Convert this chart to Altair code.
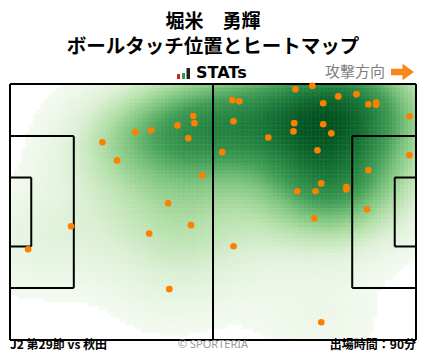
import numpy as np
import pandas as pd
import altair as alt

# ---- data (pitch metres, 105 x 68, y measured from top edge) ----
touch_x = [47.4, 47.7, 43.3, 36.5, 32.4, 23.9, 46.1, 27.7, 49.7, 40.9, 36.0, 46.8, 15.8, 4.7, 41.2,
           73.8, 78.2, 57.5, 59.3, 84.9, 89.6, 92.7, 94.7, 94.7, 81.0, 103.3, 57.8, 73.5, 73.3, 81.0,
           83.1, 66.8, 54.9, 79.5, 103.3, 92.7, 80.5, 74.3, 79.0, 87.0, 87.0, 92.3, 78.7, 57.8, 80.5]
touch_y = [8.5, 10.4, 11.0, 12.3, 12.8, 15.5, 14.4, 20.3, 24.3, 31.7, 39.7, 37.5, 37.8, 43.9, 54.5,
           1.4, 0.5, 4.3, 4.6, 3.3, 2.7, 5.4, 4.9, 5.5, 5.1, 8.6, 9.9, 10.4, 12.6, 10.7,
           13.1, 14.2, 18.1, 17.6, 18.9, 22.9, 26.4, 28.5, 28.5, 27.4, 28.0, 33.3, 35.7, 43.1, 63.3]

title_text = ["堀米　勇輝"]
subtitle_text = ["ボールタッチ位置とヒートマップ"]
brand_text = ["STATs"]
direction_text = ["攻撃方向"]
footer_left = ["J2 第29節 vs 秋田"]
footer_center = ["© SPORTERIA"]
footer_right = ["出場時間：90分"]

# pitch line segments (x, y, x2, y2)
line_x1 = [0, 105, 105, 0, 52.5, 0, 16.5, 16.5, 0, 5.5, 5.5, 105, 88.5, 88.5, 105, 99.5, 99.5]
line_y1 = [0, 0, 68, 68, 0, 13.84, 13.84, 54.16, 24.84, 24.84, 43.16, 13.84, 13.84, 54.16, 24.84, 24.84, 43.16]
line_x2 = [105, 105, 0, 0, 52.5, 16.5, 16.5, 0, 5.5, 5.5, 0, 88.5, 88.5, 105, 99.5, 99.5, 105]
line_y2 = [0, 68, 68, 0, 68, 13.84, 54.16, 54.16, 24.84, 43.16, 43.16, 13.84, 54.16, 54.16, 24.84, 43.16, 43.16]

# ---- heat map: gaussian KDE of the touch positions on a grid ----
nx, ny = 105, 68
xe = np.linspace(0, 105, nx + 1)
ye = np.linspace(0, 68, ny + 1)
xc = (xe[:-1] + xe[1:]) / 2
yc = (ye[:-1] + ye[1:]) / 2
GX, GY = np.meshgrid(xc, yc)
px = np.array(touch_x)[:, None, None]
py = np.array(touch_y)[:, None, None]
sx, sy = 12.0, 10.0
dens = np.exp(-((GX - px) ** 2 / (2 * sx ** 2) + (GY - py) ** 2 / (2 * sy ** 2))).sum(axis=0)
dens = dens / dens.max()
ix, iy = np.meshgrid(np.arange(nx), np.arange(ny))
heat = pd.DataFrame({
    "x": xe[ix.ravel()], "x2": xe[ix.ravel() + 1],
    "y": ye[iy.ravel()], "y2": ye[iy.ravel() + 1],
    "v": np.round(dens.ravel(), 3),
})
heat = heat[heat["v"] > 0.045]

points = pd.DataFrame({"x": touch_x, "y": touch_y})
lines = pd.DataFrame({"x": line_x1, "y": line_y1, "x2": line_x2, "y2": line_y2})

xs = alt.Scale(domain=[0, 105], nice=False, zero=False)
ys = alt.Scale(domain=[0, 68], nice=False, zero=False, reverse=True)

heat_colors = ["#f4faf1", "#dcf0d5", "#b2dfa8", "#7cc47e", "#3f9d55", "#1a7a3a", "#00501e"]
heat_scale = alt.Scale(domain=[0.045, 0.2, 0.35, 0.5, 0.65, 0.82, 1.0], range=heat_colors)

heat_layer = alt.Chart(heat).mark_rect(strokeWidth=0.5).encode(
    x=alt.X("x:Q", scale=xs, axis=None),
    x2="x2:Q",
    y=alt.Y("y:Q", scale=ys, axis=None),
    y2="y2:Q",
    color=alt.Color("v:Q", scale=heat_scale, legend=None),
    stroke=alt.Stroke("v:Q", scale=heat_scale, legend=None),
)

line_layer = alt.Chart(lines).mark_rule(color="black", strokeWidth=2).encode(
    x=alt.X("x:Q", scale=xs, axis=None), x2="x2:Q",
    y=alt.Y("y:Q", scale=ys, axis=None), y2="y2:Q",
)

point_layer = alt.Chart(points).mark_circle(size=44, color="#ff7f00", opacity=1).encode(
    x=alt.X("x:Q", scale=xs, axis=None),
    y=alt.Y("y:Q", scale=ys, axis=None),
)


def text_layer(values, x, y, size, align="center", color="black", weight="bold", font="Noto Sans CJK JP"):
    return alt.Chart(pd.DataFrame({"t": values})).mark_text(
        fontSize=size, align=align, baseline="middle", color=color, fontWeight=weight, font=font
    ).encode(x=alt.value(x), y=alt.value(y), text="t:N")


title_layer = text_layer(title_text, 203, -62.5, 19)
subtitle_layer = text_layer(subtitle_text, 203, -37, 19.5)
brand_layer = text_layer(brand_text, 186, -11, 16, align="left", font="DejaVu Sans")
dir_layer = text_layer(direction_text, 375, -12, 15, align="right", color="#808080", weight="normal")
fl_layer = text_layer(footer_left, 0, 261, 12, align="left")
fc_layer = text_layer(footer_center, 203, 261, 11, color="#999999", weight="normal", font="Noto Sans")
fr_layer = text_layer(footer_right, 406, 261, 12, align="right")

# small STATs logo bars
one = pd.DataFrame({"c": ["a"]})
logo_red = alt.Chart(one).mark_rect(color="#e0201b").encode(
    x=alt.value(167), x2=alt.value(170), y=alt.value(-10), y2=alt.value(-5))
logo_green = alt.Chart(one).mark_rect(color="#2aa03a").encode(
    x=alt.value(172), x2=alt.value(175), y=alt.value(-11), y2=alt.value(-5))
logo_black = alt.Chart(one).mark_rect(color="#222222").encode(
    x=alt.value(176.5), x2=alt.value(180), y=alt.value(-16), y2=alt.value(-5))

arrow_path = "M-1,-0.28L0,-0.28L0,-0.72L1,0L0,0.72L0,0.28L-1,0.28Z"
arrow_layer = alt.Chart(one).mark_point(
    shape=arrow_path, filled=True, color="#f7861c", opacity=1, size=530, strokeWidth=0
).encode(x=alt.value(392.5), y=alt.value(-12))

chart = alt.layer(
    heat_layer, line_layer, point_layer,
    title_layer, subtitle_layer, brand_layer, dir_layer, fl_layer, fc_layer, fr_layer,
    logo_red, logo_green, logo_black, arrow_layer,
).properties(
    width=406, height=256,
    autosize="none",
    padding={"left": 2, "top": 76, "right": 2, "bottom": 11},
).configure_view(stroke=None)

chart.save("out.html", embed_options={"renderer": "svg", "actions": False})
